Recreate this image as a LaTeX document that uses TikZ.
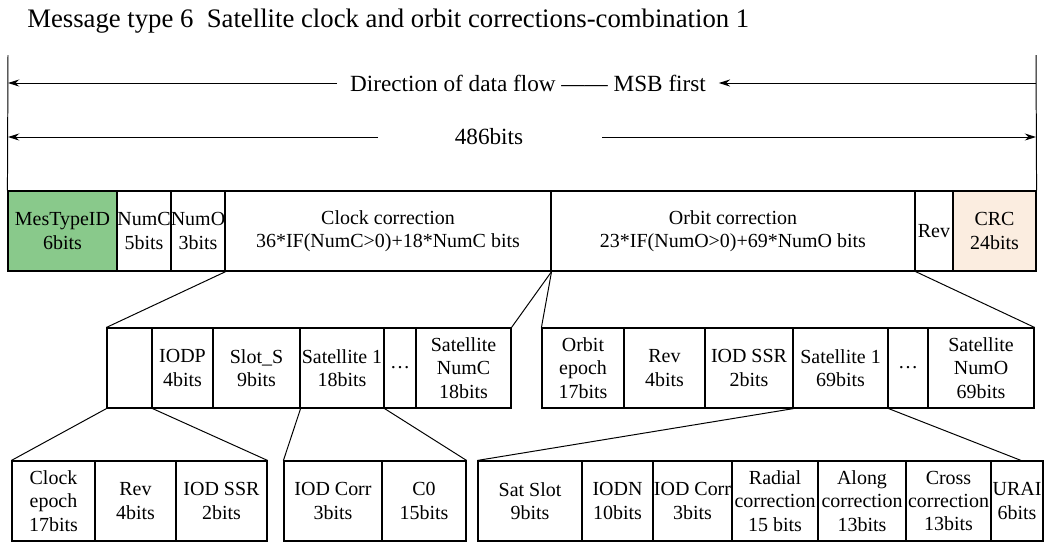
\documentclass[tikz,border=0pt]{standalone}
\usepackage{fontspec}
\setmainfont{Liberation Serif}
\usetikzlibrary{arrows.meta}

\definecolor{idgreen}{RGB}{137,201,139}
\definecolor{crcpeach}{RGB}{251,237,224}

\tikzset{
  field/.style={draw, line width=0.8pt, inner sep=0pt, minimum height=2cm,
    align=center, font=\fontsize{14.2}{16.5}\selectfont},
  link/.style={line width=0.7pt},
  flow/.style={line width=0.7pt, -{Stealth[length=8pt,width=5pt]}},
  bigtext/.style={font=\fontsize{16.5}{19}\selectfont}
}

% one bit field: [options]{name}{left x}{right x}{centre y}{text}
\newcommand{\field}[6][]{%
  \node[field, #1, minimum width={(#4-#3)*0.025cm}] (#2) at ({(#3+#4)/2},#5) {#6};}

\begin{document}
\begin{tikzpicture}[x=0.025cm,y=-0.025cm]
    \useasboundingbox (0,0) rectangle (1045,542);

    % Title
    \node[font=\fontsize{19}{22}\selectfont, anchor=base west, inner sep=0pt] (title) at (27,27)
      {Message type 6\ \ Satellite clock and orbit corrections-combination 1};

    % Message fields
    \field[fill=idgreen]{mestype}{8}{117}{231}{MesTypeID\\6bits}
    \field{numc}{117}{171}{231}{NumC\\5bits}
    \field{numo}{171}{225}{231}{NumO\\3bits}
    \field{clock}{225}{551}{231}{Clock correction\\36*IF(NumC>0)+18*NumC bits}
    \field{orbit}{551}{915}{231}{Orbit correction\\23*IF(NumO>0)+69*NumO bits}
    \field{rev}{915}{953}{231}{Rev}
    \field[fill=crcpeach]{crc}{953}{1036}{231}{CRC\\24bits}

    % Frame lines and data flow arrows
    \coordinate (lefttop) at (8,55);
    \coordinate (righttop) at (1036,55);
    \draw[link] (lefttop) -- (mestype.north west);
    \draw[link] (righttop) -- (crc.north east);

    \node[bigtext, inner ysep=3pt, inner xsep=9pt] (dir) at (528,83) {Direction of data flow —— MSB first};
    \draw[flow] (dir.west) -- (dir.west -| lefttop);
    \draw[flow] (dir.east -| righttop) -- (dir.east);

    \node[bigtext, inner sep=0pt] (total) at (489,137) {486bits};
    \coordinate (totalleft) at (378,137);
    \coordinate (totalright) at (602,137);
    \draw[flow] (totalleft) -- (total.west -| lefttop);
    \draw[flow] (totalright) -- (total.east -| righttop);

    % Clock correction fields
    \field{clkpad}{107}{152}{368}{}
    \field{iodp}{152}{213}{368}{IODP\\4bits}
    \field{slot}{213}{300}{368}{Slot\_S\\9bits}
    \field{csat}{300}{384}{368}{Satellite 1\\18bits}
    \field{cdots}{384}{416}{368}{\dots}
    \field{csatn}{416}{511}{368}{Satellite\\NumC\\18bits}

    % Orbit correction fields
    \field{oepoch}{542}{624}{368}{Orbit\\epoch\\17bits}
    \field{orev}{624}{705}{368}{Rev\\4bits}
    \field{oiod}{705}{793}{368}{IOD SSR\\2bits}
    \field{osat}{793}{888}{368}{Satellite 1\\69bits}
    \field{odots}{888}{928}{368}{\dots}
    \field{osatn}{928}{1034}{368}{Satellite\\NumO\\69bits}

    % Header and satellite sub-fields
    \field{cepoch}{12}{95}{501}{Clock\\epoch\\17bits}
    \field{crev}{95}{176}{501}{Rev\\4bits}
    \field{ciod}{176}{267}{501}{IOD SSR\\2bits}
    \field{ccorr}{284}{382}{501}{IOD Corr\\3bits}
    \field{czero}{382}{466}{501}{C0\\15bits}
    \field{sslot}{478}{582}{501}{Sat Slot\\9bits}
    \field{iodn}{582}{653}{501}{IODN\\10bits}
    \field{ocorr}{653}{732}{501}{IOD Corr\\3bits}
    \field{radial}{732}{818}{501}{Radial\\correction\\15 bits}
    \field{along}{818}{906}{501}{Along\\correction\\13bits}
    \field{cross}{906}{991}{501}{Cross\\correction\\13bits}
    \field{urai}{991}{1043}{501}{URAI\\6bits}

    % Expansion lines
    \draw[link] (numo.south east) -- (clkpad.north west);
    \draw[link] (clock.south east) -- (csatn.north east);
    \draw[link] (clock.south east) -- (oepoch.north west);
    \draw[link] (orbit.south east) -- (osatn.north east);
    \draw[link] (clkpad.south west) -- (cepoch.north west);
    \draw[link] (clkpad.south east) -- (ciod.north east);
    \draw[link] (slot.south east) -- (ccorr.north west);
    \draw[link] (csat.south east) -- (czero.north east);
    \draw[link] (oiod.south east) -- (sslot.north west);
    \draw[link] (osat.south east) -- ([xshift=0.1cm]urai.north);
\end{tikzpicture}
\end{document}
